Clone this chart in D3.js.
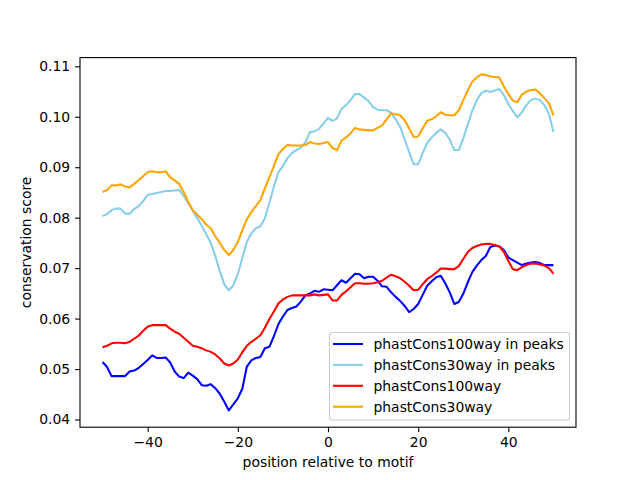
<!DOCTYPE html>
<html>
<head>
<meta charset="utf-8">
<script src="https://cdn.jsdelivr.net/npm/d3@7"></script>
<style>
  body { margin: 0; background: #fff; }
  text { font-family: "DejaVu Sans", sans-serif; }
</style>
</head>
<body>
<div id="chart"></div>
<script>
// positions relative to motif, -50 .. 50
const positions = d3.range(-50, 51);

const seriesNames = ['phastCons100way in peaks', 'phastCons30way in peaks', 'phastCons100way', 'phastCons30way'];
const seriesColours = ['#0000ff', '#87ceeb', '#ff0000', '#ffa500'];

const cons100Peaks = [
  0.0514, 0.0504, 0.0486, 0.0486, 0.0486, 0.0486, 0.0495, 0.0497, 0.0502, 0.0510,
  0.0518, 0.0527, 0.0522, 0.0522, 0.0523, 0.0513, 0.0495, 0.0485, 0.0482, 0.0493,
  0.0487, 0.0480, 0.0468, 0.0467, 0.0470, 0.0462, 0.0451, 0.0435, 0.0418, 0.0430,
  0.0442, 0.0461, 0.0505, 0.0517, 0.0522, 0.0524, 0.0541, 0.0544, 0.0565, 0.0589,
  0.0604, 0.0617, 0.0621, 0.0624, 0.0634, 0.0646, 0.0650, 0.0655, 0.0653, 0.0658,
  0.0657, 0.0656, 0.0666, 0.0676, 0.0671, 0.0680, 0.0689, 0.0688, 0.0680, 0.0683,
  0.0683, 0.0675, 0.0664, 0.0663, 0.0652, 0.0643, 0.0635, 0.0625, 0.0613, 0.0619,
  0.0629, 0.0647, 0.0665, 0.0674, 0.0682, 0.0685, 0.0670, 0.0652, 0.0629, 0.0633,
  0.0649, 0.0672, 0.0692, 0.0705, 0.0716, 0.0724, 0.0742, 0.0745, 0.0743, 0.0736,
  0.0721, 0.0716, 0.0711, 0.0706, 0.0709, 0.0711, 0.0712, 0.0710, 0.0706, 0.0706,
  0.0706
];

const cons30Peaks = [
  0.0803, 0.0807, 0.0815, 0.0818, 0.0818, 0.0808, 0.0808, 0.0817, 0.0823, 0.0833,
  0.0845, 0.0847, 0.0849, 0.0851, 0.0853, 0.0853, 0.0854, 0.0855, 0.0843, 0.0829,
  0.0814, 0.0799, 0.0784, 0.0767, 0.0750, 0.0724, 0.0694, 0.0668, 0.0656, 0.0666,
  0.0688, 0.0720, 0.0752, 0.0769, 0.0779, 0.0783, 0.0799, 0.0829, 0.0862, 0.0890,
  0.0902, 0.0918, 0.0928, 0.0934, 0.0939, 0.0949, 0.0970, 0.0971, 0.0976, 0.0987,
  0.0998, 0.0992, 0.0997, 0.1016, 0.1023, 0.1033, 0.1045, 0.1045, 0.1038, 0.1031,
  0.1019, 0.1014, 0.1013, 0.1013, 0.1008, 0.0995, 0.0980, 0.0955, 0.0930, 0.0906,
  0.0906, 0.0928, 0.0948, 0.0959, 0.0968, 0.0975, 0.0968, 0.0955, 0.0934, 0.0934,
  0.0957, 0.0985, 0.1012, 0.1033, 0.1047, 0.1052, 0.1049, 0.1052, 0.1055, 0.1043,
  0.1025, 0.1011, 0.0999, 0.1009, 0.1023, 0.1033, 0.1036, 0.1033, 0.1023, 0.1006,
  0.0970
];

const cons100 = [
  0.0543, 0.0546, 0.0551, 0.0552, 0.0552, 0.0551, 0.0554, 0.0560, 0.0566, 0.0576,
  0.0584, 0.0587, 0.0587, 0.0587, 0.0587, 0.0580, 0.0574, 0.0570, 0.0562, 0.0554,
  0.0546, 0.0544, 0.0541, 0.0537, 0.0534, 0.0529, 0.0521, 0.0511, 0.0507, 0.0511,
  0.0519, 0.0533, 0.0546, 0.0554, 0.0560, 0.0567, 0.0582, 0.0599, 0.0614, 0.0630,
  0.0638, 0.0643, 0.0646, 0.0646, 0.0646, 0.0646, 0.0646, 0.0648, 0.0646, 0.0647,
  0.0648, 0.0636, 0.0636, 0.0647, 0.0654, 0.0662, 0.0670, 0.0670, 0.0669, 0.0669,
  0.0670, 0.0672, 0.0675, 0.0681, 0.0687, 0.0684, 0.0680, 0.0673, 0.0665, 0.0656,
  0.0657, 0.0668, 0.0678, 0.0684, 0.0691, 0.0699, 0.0699, 0.0698, 0.0698, 0.0704,
  0.0718, 0.0732, 0.0740, 0.0744, 0.0747, 0.0748, 0.0748, 0.0746, 0.0743, 0.0732,
  0.0714, 0.0698, 0.0696, 0.0702, 0.0706, 0.0709, 0.0709, 0.0707, 0.0705, 0.0700,
  0.0689
];

const cons30 = [
  0.0851, 0.0855, 0.0864, 0.0864, 0.0866, 0.0862, 0.0860, 0.0867, 0.0874, 0.0882,
  0.0890, 0.0892, 0.0890, 0.0890, 0.0892, 0.0880, 0.0874, 0.0867, 0.0851, 0.0831,
  0.0815, 0.0806, 0.0797, 0.0786, 0.0779, 0.0763, 0.0750, 0.0736, 0.0726, 0.0736,
  0.0752, 0.0775, 0.0797, 0.0811, 0.0823, 0.0835, 0.0858, 0.0880, 0.0902, 0.0926,
  0.0936, 0.0944, 0.0943, 0.0943, 0.0943, 0.0944, 0.0950, 0.0947, 0.0946, 0.0948,
  0.0950, 0.0938, 0.0934, 0.0953, 0.0959, 0.0967, 0.0978, 0.0975, 0.0974, 0.0973,
  0.0973, 0.0978, 0.0983, 0.0995, 0.1007, 0.1005, 0.1003, 0.0993, 0.0977, 0.0960,
  0.0961, 0.0977, 0.0992, 0.0995, 0.1001, 0.1009, 0.1004, 0.1003, 0.1003, 0.1013,
  0.1033, 0.1052, 0.1070, 0.1078, 0.1084, 0.1083, 0.1080, 0.1079, 0.1078, 0.1060,
  0.1045, 0.1032, 0.1029, 0.1044, 0.1050, 0.1053, 0.1054, 0.1046, 0.1037, 0.1027,
  0.1003
];

const xTicks = [-40, -20, 0, 20, 40];
const yTicks = [0.04, 0.05, 0.06, 0.07, 0.08, 0.09, 0.10, 0.11];

const allSeries = [cons100Peaks, cons30Peaks, cons100, cons30];

const width = 640;
const height = 480;
const margin = { top: 57.6, right: 64, bottom: 52.8, left: 80 };
const fontPx = 13.9;
const lineW = 2.08; // 1.5pt at 100 dpi
const thinW = 1.1;  // 0.8pt

const svg = d3.select('#chart').append('svg')
  .attr('width', width)
  .attr('height', height);

// matplotlib-style 5% padding around the data
const xExt = d3.extent(positions);
const xPad = (xExt[1] - xExt[0]) * 0.05;
const allValues = allSeries.flat();
const yExt = d3.extent(allValues);
const yPad = (yExt[1] - yExt[0]) * 0.05;

const x = d3.scaleLinear()
  .domain([xExt[0] - xPad, xExt[1] + xPad])
  .range([margin.left, width - margin.right]);
const y = d3.scaleLinear()
  .domain([yExt[0] - yPad, yExt[1] + yPad])
  .range([height - margin.bottom, margin.top]);

// lines
const line = d3.line()
  .x((d, i) => x(positions[i]))
  .y((d) => y(d));

const plot = svg.append('g');
allSeries.forEach((values, i) => {
  plot.append('path')
    .datum(values)
    .attr('fill', 'none')
    .attr('stroke', seriesColours[i])
    .attr('stroke-width', lineW)
    .attr('stroke-linejoin', 'round')
    .attr('stroke-linecap', 'butt')
    .attr('d', line);
});

// axes
const minus = (v) => (v < 0 ? '\u2212' + Math.abs(v) : String(v));

const xAxis = svg.append('g')
  .attr('transform', `translate(0,${height - margin.bottom})`)
  .call(d3.axisBottom(x).tickValues(xTicks).tickFormat(minus)
    .tickSizeInner(4.9).tickSizeOuter(0).tickPadding(4.9));

const yAxis = svg.append('g')
  .attr('transform', `translate(${margin.left},0)`)
  .call(d3.axisLeft(y).tickValues(yTicks).tickFormat(d3.format('.2f'))
    .tickSizeInner(4.9).tickSizeOuter(0).tickPadding(4.9));

[xAxis, yAxis].forEach((ax) => {
  ax.select('.domain').remove();
  ax.selectAll('.tick line').attr('stroke', '#000').attr('stroke-width', thinW);
  ax.selectAll('.tick text')
    .attr('fill', '#000')
    .style('font-family', '"DejaVu Sans", sans-serif')
    .style('font-size', `${fontPx}px`);
});

// frame
svg.append('rect')
  .attr('x', margin.left)
  .attr('y', margin.top)
  .attr('width', width - margin.left - margin.right)
  .attr('height', height - margin.top - margin.bottom)
  .attr('fill', 'none')
  .attr('stroke', '#000')
  .attr('stroke-width', thinW);

// axis labels
svg.append('text')
  .attr('x', (margin.left + width - margin.right) / 2)
  .attr('y', 467)
  .attr('text-anchor', 'middle')
  .style('font-size', `${fontPx}px`)
  .text('position relative to motif');

svg.append('text')
  .attr('transform', `translate(31,${(margin.top + height - margin.bottom) / 2}) rotate(-90)`)
  .attr('text-anchor', 'middle')
  .style('font-size', `${fontPx}px`)
  .text('conservation score');

// legend
const legend = svg.append('g');
legend.append('rect')
  .attr('x', 329.5)
  .attr('y', 332.5)
  .attr('width', 240)
  .attr('height', 87.5)
  .attr('rx', 2.8)
  .attr('fill', '#fff')
  .attr('fill-opacity', 0.8)
  .attr('stroke', '#cccccc')
  .attr('stroke-width', thinW);

seriesNames.forEach((name, i) => {
  const cy = 344 + i * 20.9;
  legend.append('line')
    .attr('x1', 333).attr('x2', 363)
    .attr('y1', cy).attr('y2', cy)
    .attr('stroke', seriesColours[i])
    .attr('stroke-width', lineW);
  legend.append('text')
    .attr('x', 373.5)
    .attr('y', cy)
    .attr('dy', '0.35em')
    .style('font-size', `${fontPx}px`)
    .text(name);
});
</script>
</body>
</html>
